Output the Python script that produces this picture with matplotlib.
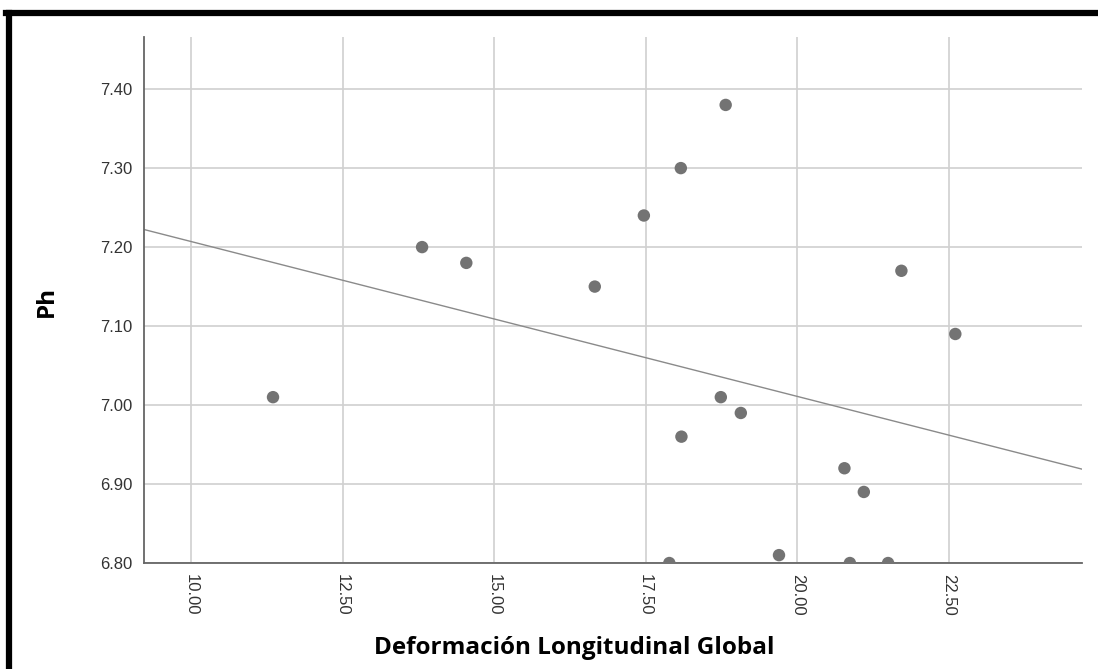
import numpy as np
import matplotlib
matplotlib.use('Agg')
import matplotlib.pyplot as plt
from matplotlib.lines import Line2D

# values
dlg = [11.35, 13.81, 14.54, 16.66, 17.47, 18.08, 18.82, 18.74, 19.07,
       18.09, 17.89, 19.70, 20.78, 20.87, 21.10, 21.50, 21.72, 22.61]
ph = [7.01, 7.20, 7.18, 7.15, 7.24, 7.30, 7.38, 7.01, 6.99,
      6.96, 6.80, 6.81, 6.92, 6.80, 6.89, 6.80, 7.17, 7.09]

# fit line (intercept, slope) as shown in the picture
fit_a = 7.403
fit_b = -0.0196

xticks = [10.0, 12.5, 15.0, 17.5, 20.0, 22.5]
yticks = [6.80, 6.90, 7.00, 7.10, 7.20, 7.30, 7.40]

fig = plt.figure(figsize=(10.98, 6.69), dpi=100)
ax = fig.add_axes([0.1311, 0.1584, 0.8543, 0.7863])

ax.set_xlim(9.22, 24.7)
ax.set_ylim(6.80, 7.466)

ax.grid(True, color='#d0d0d0', linewidth=1.2)
ax.set_axisbelow(True)

xs = np.array(ax.get_xlim())
ax.plot(xs, fit_a + fit_b * xs, color='#8a8a8a', linewidth=1.0, zorder=2)
ax.scatter(dlg, ph, s=80, color='#737373', edgecolors='none', zorder=3)

ax.set_xticks(xticks)
ax.set_xticklabels(['%.2f' % v for v in xticks], rotation=-90)
ax.set_yticks(yticks)
ax.set_yticklabels(['%.2f' % v for v in yticks])
ax.tick_params(length=0, labelsize=12, labelcolor='#333333', pad=8,
               labelfontfamily='Liberation Sans')

for side in ['top', 'right']:
    ax.spines[side].set_visible(False)
for side in ['left', 'bottom']:
    ax.spines[side].set_color('#666666')
    ax.spines[side].set_linewidth(1.3)

fig.text(0.523, 0.031, 'Deformación Longitudinal Global', ha='center',
         va='center', fontsize=17.5, fontweight='bold', family='Open Sans')
fig.text(0.043, 0.55, 'Ph', ha='center', va='center', rotation=90,
         fontsize=17.5, fontweight='bold', family='Open Sans')

# black frame lines (top and left)
fig.add_artist(Line2D([0.0055, 1.0], [0.9806, 0.9806], color='black',
                      linewidth=4.5, transform=fig.transFigure))
fig.add_artist(Line2D([0.0078, 0.0078], [0.0, 0.9806], color='black',
                      linewidth=4.5, transform=fig.transFigure))

fig.savefig('out.png', dpi=100)
